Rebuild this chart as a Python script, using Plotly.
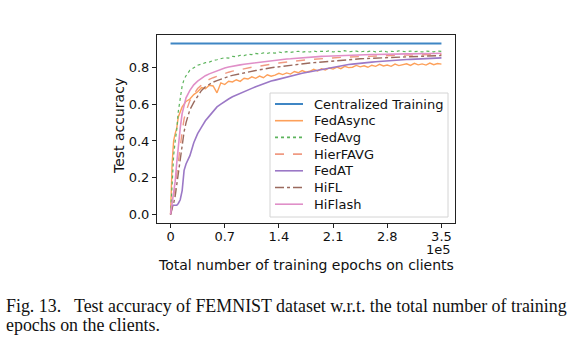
import plotly.graph_objects as go

# epochs on clients (sample positions)
epochs = [0, 1000, 2000, 3000, 4000, 6000, 8000, 10000, 12500, 15000, 17500, 20000,
          25000, 30000, 35000, 40000, 45000, 50000, 55000, 60000, 65000, 70000, 75000, 80000,
          85000, 90000, 95000, 100000, 105000, 110000, 115000, 120000, 125000, 130000, 135000,
          140000, 145000, 150000, 155000, 160000, 165000, 170000, 175000, 180000, 185000,
          190000, 195000, 200000, 205000, 210000, 215000, 220000, 225000, 230000, 235000,
          240000, 245000, 250000, 255000, 260000, 265000, 270000, 275000, 280000, 285000,
          290000, 295000, 300000, 305000, 310000, 315000, 320000, 325000, 330000, 335000,
          340000, 345000, 350000]

centralized_x = [0, 350000]
centralized = [0.93, 0.93]

fedasync = [0.0, 0.20, 0.27, 0.34, 0.40, 0.44, 0.47, 0.53, 0.56, 0.585, 0.60, 0.615,
            0.628, 0.652, 0.668, 0.690, 0.684, 0.703, 0.699, 0.662, 0.716, 0.707, 0.725, 0.721,
            0.733, 0.724, 0.741, 0.737,
            0.749, 0.741, 0.753, 0.744, 0.760, 0.752, 0.758, 0.768, 0.761, 0.770, 0.764, 0.778,
            0.771, 0.783, 0.774, 0.779, 0.790, 0.781, 0.793, 0.786,
            0.797, 0.791, 0.802, 0.793, 0.806, 0.799, 0.801, 0.811, 0.803, 0.809, 0.801, 0.812,
            0.806, 0.817, 0.808, 0.813, 0.806, 0.818, 0.810, 0.815,
            0.820, 0.811, 0.822, 0.814, 0.819, 0.813, 0.824, 0.815, 0.821, 0.818]

fedavg = [0.0, 0.10, 0.20, 0.27, 0.32, 0.40, 0.46, 0.56, 0.645, 0.70, 0.735, 0.755,
          0.785, 0.800, 0.812, 0.818, 0.826, 0.829, 0.838, 0.842, 0.846, 0.853, 0.851, 0.860,
          0.858, 0.866, 0.864, 0.872,
          0.870, 0.876, 0.873, 0.879, 0.877, 0.881, 0.878, 0.884, 0.880, 0.886, 0.882, 0.885,
          0.888, 0.883, 0.887, 0.884, 0.889, 0.885, 0.888, 0.886,
          0.890, 0.884, 0.888, 0.886, 0.891, 0.885, 0.887, 0.889, 0.884, 0.888, 0.886, 0.890,
          0.885, 0.887, 0.889, 0.884, 0.888, 0.886, 0.890, 0.887,
          0.885, 0.889, 0.886, 0.888, 0.884, 0.889, 0.887, 0.885, 0.889, 0.887]

hierfavg = [0.0, 0.02, 0.05, 0.08, 0.10, 0.15, 0.22, 0.30, 0.38, 0.45, 0.52, 0.56,
            0.62, 0.655, 0.685, 0.705, 0.720, 0.735, 0.744, 0.752, 0.761, 0.768, 0.774, 0.780,
            0.785, 0.789, 0.793, 0.797,
            0.801, 0.804, 0.808, 0.812, 0.815, 0.818, 0.821, 0.824, 0.827, 0.830, 0.832, 0.835,
            0.837, 0.839, 0.841, 0.843, 0.845, 0.847, 0.848, 0.850,
            0.851, 0.853, 0.854, 0.855, 0.856, 0.857, 0.858, 0.859, 0.860, 0.861, 0.861, 0.862,
            0.863, 0.864, 0.864, 0.865, 0.865, 0.866, 0.866, 0.867,
            0.867, 0.868, 0.868, 0.868, 0.869, 0.869, 0.870, 0.870, 0.870, 0.871]

fedat = [0.0, 0.03, 0.045, 0.05, 0.05, 0.05, 0.05, 0.06, 0.08, 0.13, 0.24, 0.275,
         0.32, 0.39, 0.44, 0.475, 0.51, 0.535, 0.56, 0.585, 0.60, 0.615, 0.628, 0.64,
         0.65, 0.66, 0.669, 0.677,
         0.686, 0.695, 0.703, 0.712, 0.719, 0.726, 0.731, 0.737, 0.742, 0.748, 0.753, 0.758,
         0.763, 0.768, 0.772, 0.776, 0.781, 0.786, 0.790, 0.795,
         0.799, 0.803, 0.807, 0.810, 0.813, 0.816, 0.818, 0.821, 0.823, 0.825, 0.827, 0.829,
         0.831, 0.833, 0.835, 0.837, 0.838, 0.839, 0.841, 0.842,
         0.843, 0.844, 0.845, 0.846, 0.847, 0.848, 0.849, 0.850, 0.851, 0.852]

hifl = [0.0, 0.01, 0.03, 0.05, 0.06, 0.10, 0.16, 0.22, 0.30, 0.38, 0.45, 0.50,
        0.57, 0.61, 0.645, 0.675, 0.695, 0.710, 0.720, 0.728, 0.737, 0.745, 0.751, 0.757,
        0.762, 0.767, 0.771, 0.775,
        0.779, 0.783, 0.787, 0.792, 0.795, 0.798, 0.801, 0.804, 0.807, 0.810, 0.812, 0.815,
        0.817, 0.820, 0.822, 0.824, 0.826, 0.828, 0.830, 0.832,
        0.834, 0.836, 0.838, 0.839, 0.841, 0.842, 0.844, 0.845, 0.847, 0.848, 0.849, 0.850,
        0.851, 0.852, 0.853, 0.854, 0.855, 0.856, 0.857, 0.858,
        0.859, 0.859, 0.860, 0.861, 0.861, 0.862, 0.863, 0.863, 0.864, 0.865]

hiflash = [0.0, 0.03, 0.06, 0.10, 0.13, 0.18, 0.28, 0.38, 0.47, 0.55, 0.60, 0.635,
           0.675, 0.705, 0.725, 0.740, 0.755, 0.765, 0.774, 0.782, 0.790, 0.797, 0.802, 0.807,
           0.811, 0.814, 0.817, 0.820,
           0.823, 0.826, 0.829, 0.832, 0.834, 0.837, 0.839, 0.841, 0.843, 0.846, 0.847, 0.849,
           0.851, 0.852, 0.854, 0.855, 0.857, 0.858, 0.860, 0.861,
           0.862, 0.863, 0.864, 0.865, 0.866, 0.866, 0.867, 0.868, 0.868, 0.869, 0.869, 0.870,
           0.870, 0.871, 0.871, 0.872, 0.872, 0.873, 0.873, 0.873,
           0.874, 0.874, 0.875, 0.875, 0.875, 0.876, 0.876, 0.876, 0.877, 0.877]

x_tickvals = [0, 70000, 140000, 210000, 280000, 350000]
x_ticktext = ["0", "0.7", "1.4", "2.1", "2.8", "3.5"]
y_tickvals = [0.0, 0.2, 0.4, 0.6, 0.8]

series = [
    ("Centralized Training", centralized_x, centralized, "#3f86c4", "solid", 2),
    ("FedAsync", epochs, fedasync, "#fda05a", "solid", 1.4),
    ("FedAvg", epochs, fedavg, "#5db45d", "dot", 1.2),
    ("HierFAVG", epochs, hierfavg, "#f09a82", "dash", 1.4),
    ("FedAT", epochs, fedat, "#9b78c6", "solid", 1.6),
    ("HiFL", epochs, hifl, "#9a6a5e", "dashdot", 1.4),
    ("HiFlash", epochs, hiflash, "#e08fc8", "solid", 1.6),
]

# plot-area geometry in pixels (for converting annotation positions)
PL, PR, PT, PB = 157, 455, 35, 223
PW, PH = PR - PL, PB - PT


def px(x):
    return (x - PL) / PW


def py(y):
    return (PB - y) / PH


fig = go.Figure()
for name, xs, ys, color, dash, w in series:
    fig.add_trace(go.Scatter(x=xs, y=ys, mode="lines", name=name, showlegend=False,
                             line=dict(color=color, dash=dash, width=w)))

font_family = "DejaVu Sans"
axis_common = dict(showline=True, linecolor="#222", linewidth=1, mirror=True,
                   ticks="outside", ticklen=4, tickcolor="#222", showgrid=False,
                   zeroline=False, tickfont=dict(family=font_family, size=13, color="#111"))

fig.update_layout(
    width=577, height=351,
    margin=dict(l=PL, r=577 - PR, t=PT, b=351 - PB),
    paper_bgcolor="white", plot_bgcolor="white",
    font=dict(family=font_family, size=13, color="#111"),
    xaxis=dict(range=[-17500, 367500], tickvals=x_tickvals, ticktext=x_ticktext,
               ticklabelstandoff=-3, **axis_common),
    yaxis=dict(range=[-0.0465, 0.9765], tickvals=y_tickvals, tickformat=".1f",
               **axis_common),
    showlegend=False,
)

# axis titles and offset text
fig.add_annotation(text="Total number of training epochs on clients", xref="paper", yref="paper",
                   x=0.5, y=py(265), xanchor="center", yanchor="middle", showarrow=False,
                   font=dict(family=font_family, size=14, color="#111"))
fig.add_annotation(text="Test accuracy", xref="paper", yref="paper", textangle=-90,
                   x=px(119), y=py(126), xanchor="center", yanchor="middle", showarrow=False,
                   font=dict(family=font_family, size=14, color="#111"))
fig.add_annotation(text="1e5", xref="paper", yref="paper", x=px(453), y=py(249),
                   xanchor="right", yanchor="middle", showarrow=False,
                   font=dict(family=font_family, size=13, color="#111"))

# legend drawn as a framed box
LX0, LX1, LY0, LY1 = 270, 448, 93, 217
fig.add_shape(type="rect", xref="paper", yref="paper", x0=px(LX0), x1=px(LX1),
              y0=py(LY1), y1=py(LY0), line=dict(color="#d4d4d4", width=1),
              fillcolor="rgba(255,255,255,0.85)", layer="above")
for i, (name, xs, ys, color, dash, w) in enumerate(series):
    yy = 104 + i * 16.7
    fig.add_shape(type="line", xref="paper", yref="paper", x0=px(275), x1=px(303),
                  y0=py(yy), y1=py(yy), line=dict(color=color, dash=dash, width=max(w, 1.6)),
                  layer="above")
    fig.add_annotation(text=name, xref="paper", yref="paper", x=px(312), y=py(yy),
                       xanchor="left", yanchor="middle", showarrow=False,
                       font=dict(family=font_family, size=13, color="#111"))

cap_font = dict(family="Liberation Serif", size=17.9, color="#111")
fig.add_annotation(text="Fig. 13.", xref="paper", yref="paper", x=px(4), y=py(306),
                   xanchor="left", yanchor="middle", showarrow=False, font=cap_font)
fig.add_annotation(text="Test accuracy of FEMNIST dataset w.r.t. the total number of training",
                   xref="paper", yref="paper", x=px(72), y=py(306),
                   xanchor="left", yanchor="middle", showarrow=False, font=cap_font)
fig.add_annotation(text="epochs on the clients.", xref="paper", yref="paper", x=px(4), y=py(325),
                   xanchor="left", yanchor="middle", showarrow=False, font=cap_font)

fig.write_html("out.html")
